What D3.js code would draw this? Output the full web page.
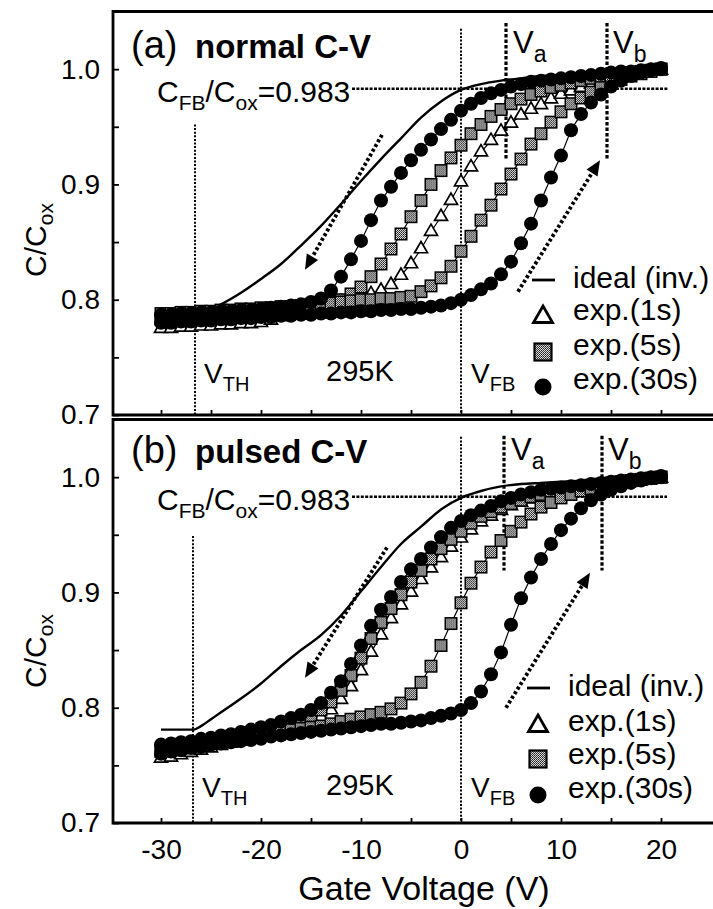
<!DOCTYPE html>
<html>
<head>
<meta charset="utf-8">
<script src="https://cdn.jsdelivr.net/npm/d3@7"></script>
<style>
	body { margin: 0; background: #fff; }
	svg { display: block; font-family: "Liberation Sans", Arial, sans-serif; }
</style>
</head>
<body>
<div id="chart"></div>
<script>

// sweep grid (V) shared by all measured curves
var volts = [
	-30, -29, -28, -27, -26, -25, -24, -23, -22, -21,
	-20, -19, -18, -17, -16, -15, -14, -13, -12, -11,
	-10, -9, -8, -7, -6, -5, -4, -3, -2, -1,
	0, 1, 2, 3, 4, 5, 6, 7, 8, 9,
	10, 11, 12, 13, 14, 15, 16, 17, 18, 19,
	20
]

var xTicks = [-30, -25, -20, -15, -10, -5, 0, 5, 10, 15, 20]
var yTicks = [0.7, 0.75, 0.8, 0.85, 0.9, 0.95, 1.0]
var cfbRatio = 0.983
var tempLabel = '295K'
var legendLabels = ['ideal (inv.)', 'exp.(1s)', 'exp.(5s)', 'exp.(30s)']

// (a) normal C-V
var idealVoltsA = [-28, -26.7, -25, -24, -22, -20, -18, -16, -14, -12, -10, -8, -6, -4, -2, 0, 2, 4, 6, 8, 10, 15, 20]
var idealA = [0.788, 0.789, 0.792, 0.796, 0.806, 0.818, 0.831, 0.847, 0.864, 0.883, 0.903, 0.922, 0.940, 0.958, 0.972, 0.982, 0.987, 0.990, 0.992, 0.994, 0.995, 0.998, 1.000]

var tri1sA = [
	0.775, 0.775, 0.776, 0.776, 0.777, 0.777, 0.778, 0.778, 0.779, 0.779,
	0.780, 0.782, 0.785, 0.788, 0.790, 0.792, 0.794, 0.796, 0.798, 0.800,
	0.802, 0.805, 0.808, 0.813, 0.821, 0.831, 0.844, 0.859, 0.872, 0.886,
	0.902, 0.915, 0.928, 0.938, 0.946, 0.953, 0.960, 0.965, 0.969, 0.974,
	0.978, 0.981, 0.984, 0.987, 0.989, 0.991, 0.993, 0.995, 0.997, 0.998,
	0.999
]
var sq5sDownA = [
	0.788, 0.788, 0.789, 0.789, 0.790, 0.790, 0.791, 0.791, 0.792, 0.792,
	0.793, 0.793, 0.794, 0.794, 0.795, 0.796, 0.797, 0.798, 0.800, 0.805,
	0.811, 0.820, 0.831, 0.844, 0.857, 0.872, 0.886, 0.900, 0.912, 0.923,
	0.934, 0.944, 0.952, 0.959, 0.965, 0.970, 0.974, 0.978, 0.981, 0.984,
	0.986, 0.988, 0.990, 0.992, 0.993, 0.995, 0.996, 0.997, 0.998, 0.999,
	1.000
]
var sq5sUpA = [
	0.783, 0.783, 0.784, 0.784, 0.785, 0.786, 0.787, 0.787, 0.788, 0.789,
	0.790, 0.791, 0.792, 0.793, 0.794, 0.795, 0.796, 0.797, 0.798, 0.799,
	0.800, 0.800, 0.801, 0.801, 0.802, 0.803, 0.807, 0.812, 0.819, 0.829,
	0.842, 0.855, 0.869, 0.882, 0.896, 0.909, 0.922, 0.935, 0.944, 0.954,
	0.963, 0.970, 0.975, 0.980, 0.984, 0.988, 0.991, 0.994, 0.996, 0.998,
	1.000
]
var ci30sDownA = [
	0.787, 0.787, 0.788, 0.788, 0.789, 0.789, 0.790, 0.790, 0.791, 0.791,
	0.792, 0.793, 0.794, 0.795, 0.796, 0.798, 0.801, 0.808, 0.820, 0.835,
	0.851, 0.869, 0.886, 0.898, 0.910, 0.921, 0.930, 0.939, 0.948, 0.956,
	0.964, 0.970, 0.975, 0.979, 0.982, 0.985, 0.987, 0.989, 0.990, 0.991,
	0.992, 0.993, 0.994, 0.995, 0.996, 0.997, 0.998, 0.998, 0.999, 1.000,
	1.001
]
var ci30sUpA = [
	0.780, 0.780, 0.781, 0.781, 0.782, 0.782, 0.783, 0.783, 0.784, 0.784,
	0.785, 0.785, 0.786, 0.786, 0.787, 0.787, 0.788, 0.788, 0.789, 0.789,
	0.790, 0.790, 0.791, 0.791, 0.792, 0.792, 0.793, 0.794, 0.795, 0.797,
	0.800, 0.804, 0.809, 0.814, 0.822, 0.833, 0.849, 0.866, 0.886, 0.906,
	0.925, 0.947, 0.961, 0.971, 0.978, 0.985, 0.990, 0.994, 0.997, 0.999,
	1.000
]

// (b) pulsed C-V
var idealVoltsB = [-30, -26.7, -26, -25, -24, -22, -20, -18, -16, -14, -12, -10, -8, -6, -4, -2, 0, 2, 4, 6, 8, 10, 15, 20]
var idealB = [0.781, 0.781, 0.784, 0.790, 0.796, 0.808, 0.821, 0.836, 0.850, 0.863, 0.880, 0.901, 0.922, 0.942, 0.957, 0.972, 0.982, 0.988, 0.992, 0.994, 0.995, 0.996, 0.998, 1.000]

var tri1sB = [
	0.756, 0.757, 0.759, 0.761, 0.763, 0.765, 0.767, 0.769, 0.771, 0.773,
	0.776, 0.778, 0.781, 0.783, 0.786, 0.789, 0.792, 0.798, 0.807, 0.818,
	0.832, 0.848, 0.863, 0.877, 0.889, 0.900, 0.911, 0.921, 0.930, 0.939,
	0.947, 0.954, 0.961, 0.966, 0.971, 0.975, 0.978, 0.981, 0.984, 0.986,
	0.988, 0.990, 0.991, 0.992, 0.993, 0.994, 0.995, 0.996, 0.997, 0.998,
	0.999
]
var sq5sDownB = [
	0.763, 0.764, 0.765, 0.767, 0.768, 0.770, 0.771, 0.773, 0.775, 0.777,
	0.779, 0.781, 0.783, 0.786, 0.789, 0.793, 0.798, 0.805, 0.815, 0.828,
	0.843, 0.860, 0.874, 0.886, 0.898, 0.909, 0.919, 0.929, 0.938, 0.946,
	0.953, 0.960, 0.966, 0.970, 0.974, 0.977, 0.980, 0.983, 0.985, 0.987,
	0.989, 0.990, 0.991, 0.993, 0.994, 0.995, 0.996, 0.997, 0.998, 0.999,
	1.000
]
var sq5sUpB = [
	0.762, 0.763, 0.765, 0.766, 0.768, 0.769, 0.771, 0.772, 0.774, 0.775,
	0.777, 0.778, 0.780, 0.781, 0.782, 0.783, 0.784, 0.786, 0.788, 0.790,
	0.792, 0.794, 0.796, 0.799, 0.804, 0.812, 0.822, 0.836, 0.854, 0.873,
	0.891, 0.908, 0.922, 0.935, 0.945, 0.953, 0.961, 0.968, 0.974, 0.978,
	0.982, 0.985, 0.988, 0.990, 0.992, 0.994, 0.996, 0.997, 0.998, 0.999,
	1.000
]
var ci30sDownB = [
	0.768, 0.769, 0.770, 0.771, 0.773, 0.774, 0.776, 0.777, 0.779, 0.781,
	0.783, 0.785, 0.788, 0.791, 0.794, 0.798, 0.804, 0.813, 0.823, 0.838,
	0.854, 0.871, 0.885, 0.896, 0.909, 0.920, 0.929, 0.939, 0.948, 0.956,
	0.962, 0.967, 0.971, 0.975, 0.979, 0.982, 0.985, 0.987, 0.989, 0.990,
	0.991, 0.992, 0.993, 0.994, 0.995, 0.996, 0.997, 0.998, 0.999, 1.000,
	1.001
]
var ci30sUpB = [
	0.760, 0.762, 0.763, 0.765, 0.766, 0.768, 0.769, 0.770, 0.771, 0.772,
	0.773, 0.775, 0.776, 0.777, 0.778, 0.779, 0.780, 0.781, 0.782, 0.783,
	0.784, 0.785, 0.786, 0.786, 0.787, 0.788, 0.789, 0.791, 0.793, 0.795,
	0.798, 0.804, 0.814, 0.829, 0.848, 0.872, 0.895, 0.913, 0.929, 0.942,
	0.954, 0.964, 0.973, 0.980, 0.985, 0.989, 0.992, 0.995, 0.997, 0.999,
	1.000
]

var Chart = ((d3) => {

	var width = 713,
		height = 909

	var svg = d3.select('#chart')
		.append('svg')
		.attr('width', width)
		.attr('height', height)

	// grey dithered fill of the square symbols
	var pattern = svg.append('defs')
		.append('pattern')
		.attr('id', 'dither')
		.attr('width', 2)
		.attr('height', 2)
		.attr('patternUnits', 'userSpaceOnUse')
	pattern.append('rect').attr('width', 2).attr('height', 2).attr('fill', '#d8d8d8')
	pattern.append('rect').attr('width', 1).attr('height', 1).attr('fill', '#222')
	pattern.append('rect').attr('x', 1).attr('y', 1).attr('width', 1).attr('height', 1).attr('fill', '#444')

	var x = d3.scaleLinear()
		.domain([-34.8, 25.2])
		.range([113, 713])

	var panels = [
		{
			top: 11.5, bottom: 415, tag: '(a)', title: 'normal C-V', tagY: 58, cfbY: 102,
			ideal: [idealVoltsA, idealA], tri: tri1sA,
			squares: [sq5sDownA, sq5sUpA], circles: [ci30sDownA, ci30sUpA],
			vth: -26.6, vthTop: 0.952, vfbTop: 1.035,
			va: 4.5, vb: 14.6, vabTop: 1.040, vabBottom: 0.922, vaY: 53,
			cfbFrom: -10.9, cfbTo: 20.7,
			arrowDown: [[-7.9, 0.943], [-15.6, 0.826]], arrowUp: [[5.7, 0.807], [13.9, 0.921]],
			bottomY: 383, legend: { lineX: 532, markX: 543, textX: 573, lineY: 280, rows: [288, 320, 355, 389], marks: [317, 352, 387] },
			labelY: 240, xLabels: false
		},
		{
			top: 419.5, bottom: 823, tag: '(b)', title: 'pulsed C-V', tagY: 463, cfbY: 510,
			ideal: [idealVoltsB, idealB], tri: tri1sB,
			squares: [sq5sDownB, sq5sUpB], circles: [ci30sDownB, ci30sUpB],
			vth: -26.8, vthTop: 0.949, vfbTop: 1.035,
			va: 4.3, vb: 14.1, vabTop: 1.036, vabBottom: 0.919, vaY: 460,
			cfbFrom: -10.9, cfbTo: 20.6,
			arrowDown: [[-7.4, 0.939], [-15.6, 0.826]], arrowUp: [[4.5, 0.800], [12.9, 0.917]],
			bottomY: 797, legend: { lineX: 527, markX: 538, textX: 568, lineY: 688, rows: [696, 731, 764, 798], marks: [726, 759, 795] },
			labelY: 651, xLabels: true
		}
	]

	var subText = (sel, parts, big, small, shift) => {
		parts.forEach((p, i) => {
			sel.append('tspan')
				.attr('font-size', p[1] ? small : big)
				.attr('dy', i === 0 ? (p[1] ? shift : 0) : (p[1] ? shift : (parts[i - 1][1] ? -shift : 0)))
				.text(p[0])
		})
	}

	var drawSymbol = (sel, kind, s) => {
		if (kind === 'circle') {
			sel.append('circle').attr('r', s / 2).attr('fill', '#000')
		} else if (kind === 'square') {
			sel.append('rect')
				.attr('x', -s / 2).attr('y', -s / 2)
				.attr('width', s).attr('height', s)
				.attr('fill', 'url(#dither)')
				.attr('stroke', '#000')
				.attr('stroke-width', s > 13 ? 2.2 : 1.5)
		} else {
			var k = s / (2 * Math.sqrt(3))
			sel.append('path')
				.attr('d', d3.symbol().type(d3.symbolTriangle).size(k * k * 3 * Math.sqrt(3)))
				.attr('fill', '#fff')
				.attr('stroke', '#000')
				.attr('stroke-width', s > 14 ? 2.8 : 1.7)
		}
	}

	var drawPanel = p => {

		var y = d3.scaleLinear()
			.domain([0.7, 1.05])
			.range([p.bottom, p.top])

		var g = svg.append('g')

		// axes
		var yAxis = g.append('g')
			.attr('transform', 'translate(' + x.range()[0] + ',0)')
			.call(d3.axisLeft(y)
				.tickValues(yTicks)
				.tickSize(-6)
				.tickPadding(13)
				.tickFormat(d => Math.round(d * 100) % 10 === 0 ? d.toFixed(1) : ''))
		yAxis.select('.domain').remove()

		var xAxis = g.append('g')
			.attr('transform', 'translate(0,' + p.bottom + ')')
			.call(d3.axisBottom(x)
				.tickValues(xTicks)
				.tickSize(-5)
				.tickPadding(16)
				.tickFormat(d => p.xLabels && d % 10 === 0 ? String(d) : ''))
		xAxis.select('.domain').remove()

		g.selectAll('.tick line').attr('stroke-width', 1.8)
		g.selectAll('.tick text')
			.attr('font-size', 28)
			.attr('font-family', '"Liberation Sans", Arial, sans-serif')
			.attr('fill', '#000')

		// reference lines
		var refs = g.append('g').attr('fill', 'none').attr('stroke', '#000')

		refs.append('line')
			.attr('x1', x(p.vth)).attr('x2', x(p.vth))
			.attr('y1', y(p.vthTop)).attr('y2', p.bottom)
			.attr('stroke-width', 2).attr('stroke-dasharray', '2,1.6')

		refs.append('line')
			.attr('x1', x(0)).attr('x2', x(0))
			.attr('y1', y(p.vfbTop)).attr('y2', p.bottom)
			.attr('stroke-width', 2).attr('stroke-dasharray', '2,1.6')

		;[p.va, p.vb].forEach(v => {
			refs.append('line')
				.attr('x1', x(v)).attr('x2', x(v))
				.attr('y1', y(p.vabTop)).attr('y2', y(p.vabBottom))
				.attr('stroke-width', 3.2).attr('stroke-dasharray', '3.5,2')
		})

		refs.append('line')
			.attr('x1', x(p.cfbFrom)).attr('x2', x(p.cfbTo))
			.attr('y1', y(cfbRatio)).attr('y2', y(cfbRatio))
			.attr('stroke-width', 2.4).attr('stroke-dasharray', '3,1.4')

		// sweep direction arrows
		;[p.arrowDown, p.arrowUp].forEach(a => {
			var x1 = x(a[0][0]), y1 = y(a[0][1]),
				x2 = x(a[1][0]), y2 = y(a[1][1])
			var ang = Math.atan2(y2 - y1, x2 - x1),
				len = 15, hw = 6.5
			var bx = x2 - len * Math.cos(ang), by = y2 - len * Math.sin(ang)
			refs.append('line')
				.attr('x1', x1).attr('y1', y1)
				.attr('x2', bx).attr('y2', by)
				.attr('stroke-width', 3.8).attr('stroke-dasharray', '3,2.4')
			g.append('path')
				.attr('d', 'M' + x2 + ',' + y2 +
					'L' + (bx + hw * Math.sin(ang)) + ',' + (by - hw * Math.cos(ang)) +
					'L' + (bx - hw * Math.sin(ang)) + ',' + (by + hw * Math.cos(ang)) + 'Z')
				.attr('fill', '#000')
		})

		// ideal curve
		var idealPts = p.ideal[0].map((v, i) => [v, p.ideal[1][i]])
		g.append('path')
			.datum(idealPts)
			.attr('fill', 'none')
			.attr('stroke', '#000')
			.attr('stroke-width', 2.4)
			.attr('d', d3.line().x(d => x(d[0])).y(d => y(d[1])).curve(d3.curveMonotoneX))

		// measured curves: thin line + markers
		var series = [['tri', p.tri]]
			.concat(p.squares.map(s => ['square', s]))
			.concat(p.circles.map(s => ['circle', s]))

		var line = d3.line().x(d => x(d[0])).y(d => y(d[1]))

		series.forEach(s => {
			var pts = volts.map((v, i) => [v, s[1][i]])
			g.append('path')
				.datum(pts)
				.attr('fill', 'none')
				.attr('stroke', '#000')
				.attr('stroke-width', 1.2)
				.attr('d', line)
			var size = s[0] === 'circle' ? 14 : s[0] === 'square' ? 11.5 : 13
			g.append('g')
				.selectAll('g')
				.data(pts)
				.join('g')
					.attr('transform', d => 'translate(' + x(d[0]) + ',' + y(d[1]) + ')')
					.each(function () { drawSymbol(d3.select(this), s[0], size) })
		})

		// frame
		g.append('path')
			.attr('d', 'M' + (width + 5) + ',' + p.top + 'H' + x.range()[0] + 'V' + p.bottom + 'H' + (width + 5))
			.attr('fill', 'none')
			.attr('stroke', '#000')
			.attr('stroke-width', 2.8)

		// texts
		g.append('text').attr('x', 131).attr('y', p.tagY).attr('font-size', 38).text(p.tag)
		g.append('text').attr('x', 195).attr('y', p.tagY).attr('font-size', 33).attr('font-weight', 'bold').text(p.title)

		subText(g.append('text').attr('x', 157).attr('y', p.cfbY),
			[['C', 0], ['FB', 1], ['/C', 0], ['ox', 1], ['=' + cfbRatio.toFixed(3), 0]], 30, 21, 8)

		subText(g.append('text').attr('x', x(p.va) + 7).attr('y', p.vaY), [['V', 0], ['a', 1]], 31, 23, 9)
		subText(g.append('text').attr('x', x(p.vb) + 6).attr('y', p.vaY), [['V', 0], ['b', 1]], 31, 23, 9)

		subText(g.append('text').attr('x', x(p.vth) + 9).attr('y', p.bottomY), [['V', 0], ['TH', 1]], 28, 20, 8)
		subText(g.append('text').attr('x', x(0) + 10).attr('y', p.bottomY), [['V', 0], ['FB', 1]], 28, 20, 8)
		g.append('text').attr('x', 326).attr('y', p.bottomY - 2).attr('font-size', 29).text(tempLabel)

		// legend
		var L = p.legend
		g.append('line')
			.attr('x1', L.lineX).attr('x2', L.lineX + 23)
			.attr('y1', L.lineY).attr('y2', L.lineY)
			.attr('stroke', '#000').attr('stroke-width', 2.8)
		legendLabels.forEach((t, i) => {
			g.append('text').attr('x', L.textX).attr('y', L.rows[i]).attr('font-size', 30).text(t)
		})
		;['tri', 'square', 'circle'].forEach((k, i) => {
			var m = g.append('g').attr('transform', 'translate(' + L.markX + ',' + L.marks[i] + ')')
			drawSymbol(m, k, k === 'tri' ? 19 : 17)
		})

		// y title
		subText(g.append('text')
				.attr('transform', 'translate(46,' + p.labelY + ') rotate(-90)')
				.attr('text-anchor', 'middle'),
			[['C/C', 0], ['ox', 1]], 30, 21, 7)

	}

	panels.forEach(drawPanel)

	svg.append('text')
		.attr('x', 424)
		.attr('y', 900)
		.attr('text-anchor', 'middle')
		.attr('font-size', 34)
		.text('Gate Voltage (V)')

	return { svg : svg }

})(d3)

</script>
</body>
</html>
